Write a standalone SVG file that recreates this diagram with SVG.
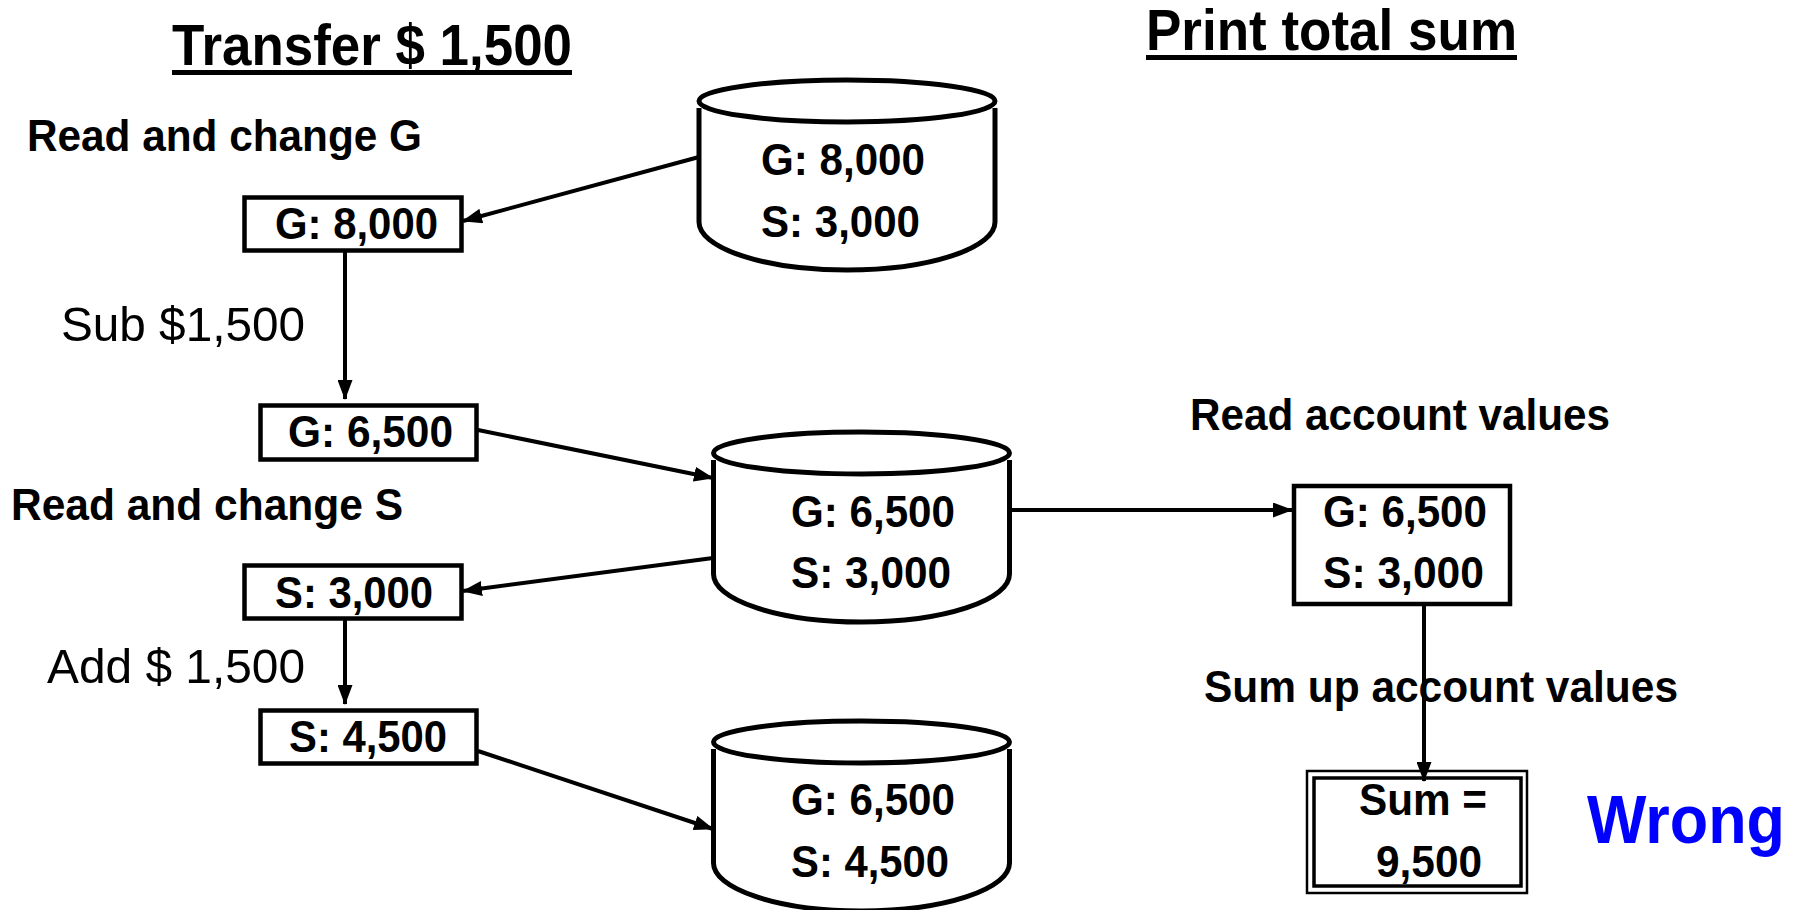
<svg xmlns="http://www.w3.org/2000/svg" width="1798" height="910" viewBox="0 0 1798 910">
  <style>
    text { font-family: "Liberation Sans", Arial, sans-serif; fill: #000; }
    .title { font-size: 58px; font-weight: bold; }
    .label { font-size: 44px; font-weight: bold; }
    .op { font-size: 49px; font-weight: normal; }
    .val { font-size: 45px; font-weight: bold; }
    .wrong { font-size: 68px; font-weight: bold; fill: #0000ff; }
    .box { fill: #fff; stroke: #000; stroke-width: 4.5; }
    .db { fill: #fff; stroke: #000; stroke-width: 5; }
    .edge { fill: none; stroke: #000; stroke-width: 4; }
  </style>
  <defs>
    <marker id="arrow" markerUnits="userSpaceOnUse" markerWidth="20" markerHeight="15" refX="19" refY="7.5" orient="auto">
      <path d="M0,0 L20,7.5 L0,15 z" fill="#000"/>
    </marker>
    <!-- database cylinder: top lid + body -->
    <g id="cyl">
      <path class="db" d="M699,108 V222 A148,48 0 0 0 995,222 V108"/>
      <ellipse class="db" cx="847" cy="101" rx="148" ry="21"/>
    </g>
  </defs>

  <!-- headings and step labels -->
  <g id="labels">
    <text class="title" x="172" y="65" textLength="400" lengthAdjust="spacingAndGlyphs">Transfer $ 1,500</text>
    <rect x="172" y="70" width="400" height="5" fill="#000"/>
    <text class="title" x="1146" y="50" textLength="371" lengthAdjust="spacingAndGlyphs">Print total sum</text>
    <rect x="1146" y="55" width="371" height="5" fill="#000"/>

    <text class="label" x="27" y="151" textLength="395" lengthAdjust="spacingAndGlyphs">Read and change G</text>
    <text class="op" x="61" y="341" textLength="244" lengthAdjust="spacingAndGlyphs">Sub $1,500</text>
    <text class="label" x="11" y="520" textLength="392" lengthAdjust="spacingAndGlyphs">Read and change S</text>
    <text class="op" x="47" y="683" textLength="258" lengthAdjust="spacingAndGlyphs">Add $ 1,500</text>

    <text class="label" x="1190" y="430" textLength="420" lengthAdjust="spacingAndGlyphs">Read account values</text>
    <text class="label" x="1204" y="702" textLength="474" lengthAdjust="spacingAndGlyphs">Sum up account values</text>
    <text class="wrong" x="1587" y="843" textLength="198" lengthAdjust="spacingAndGlyphs">Wrong</text>
  </g>

  <!-- database states -->
  <g id="db-initial">
    <use href="#cyl"/>
    <text class="val" x="761" y="175" textLength="164" lengthAdjust="spacingAndGlyphs">G: 8,000</text>
    <text class="val" x="761" y="237" textLength="159" lengthAdjust="spacingAndGlyphs">S: 3,000</text>
  </g>
  <g id="db-after-g">
    <use href="#cyl" transform="translate(14.5,352)"/>
    <text class="val" x="791" y="527" textLength="164" lengthAdjust="spacingAndGlyphs">G: 6,500</text>
    <text class="val" x="791" y="588" textLength="160" lengthAdjust="spacingAndGlyphs">S: 3,000</text>
  </g>
  <g id="db-after-s">
    <use href="#cyl" transform="translate(14.5,641)"/>
    <text class="val" x="791" y="815" textLength="164" lengthAdjust="spacingAndGlyphs">G: 6,500</text>
    <text class="val" x="791" y="877" textLength="158" lengthAdjust="spacingAndGlyphs">S: 4,500</text>
  </g>

  <!-- transfer transaction local values -->
  <g id="g-read">
    <rect class="box" x="244.5" y="197.5" width="217" height="53"/>
    <text class="val" x="275" y="239" textLength="163" lengthAdjust="spacingAndGlyphs">G: 8,000</text>
  </g>
  <g id="g-changed">
    <rect class="box" x="260.5" y="405.5" width="216" height="54"/>
    <text class="val" x="288" y="447" textLength="165" lengthAdjust="spacingAndGlyphs">G: 6,500</text>
  </g>
  <g id="s-read">
    <rect class="box" x="244.5" y="565.5" width="217" height="53"/>
    <text class="val" x="275" y="608" textLength="158" lengthAdjust="spacingAndGlyphs">S: 3,000</text>
  </g>
  <g id="s-changed">
    <rect class="box" x="260.5" y="710.5" width="216" height="53"/>
    <text class="val" x="289" y="752" textLength="158" lengthAdjust="spacingAndGlyphs">S: 4,500</text>
  </g>

  <!-- sum transaction -->
  <g id="sum-read">
    <rect class="box" x="1294" y="486" width="216" height="118"/>
    <text class="val" x="1323" y="527" textLength="164" lengthAdjust="spacingAndGlyphs">G: 6,500</text>
    <text class="val" x="1323" y="588" textLength="161" lengthAdjust="spacingAndGlyphs">S: 3,000</text>
  </g>
  <g id="sum-result">
    <rect x="1307" y="771" width="220" height="122" fill="#fff" stroke="#000" stroke-width="2.5"/>
    <rect x="1314" y="778" width="207" height="108" fill="none" stroke="#000" stroke-width="3.5"/>
    <text class="val" x="1359" y="815" textLength="128" lengthAdjust="spacingAndGlyphs">Sum =</text>
    <text class="val" x="1376" y="877" textLength="106" lengthAdjust="spacingAndGlyphs">9,500</text>
  </g>

  <!-- connectors -->
  <g id="connectors">
    <line class="edge" x1="699" y1="157" x2="463" y2="221" marker-end="url(#arrow)"/>
    <line class="edge" x1="345" y1="252" x2="345" y2="399" marker-end="url(#arrow)"/>
    <line class="edge" x1="478" y1="430" x2="713" y2="478" marker-end="url(#arrow)"/>
    <line class="edge" x1="713" y1="558" x2="463" y2="591" marker-end="url(#arrow)"/>
    <line class="edge" x1="345" y1="620" x2="345" y2="704" marker-end="url(#arrow)"/>
    <line class="edge" x1="478" y1="751" x2="713" y2="829" marker-end="url(#arrow)"/>
    <line class="edge" x1="1011" y1="510" x2="1292" y2="510" marker-end="url(#arrow)"/>
    <line class="edge" x1="1424" y1="606" x2="1424" y2="781" marker-end="url(#arrow)"/>
  </g>
</svg>
